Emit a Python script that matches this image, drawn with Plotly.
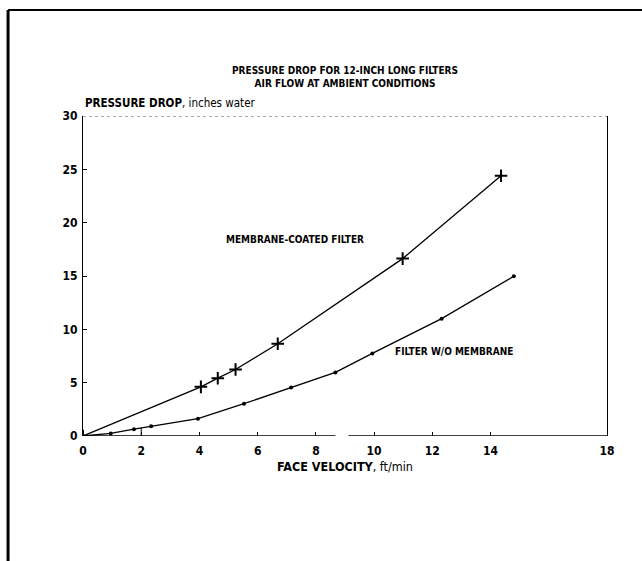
import plotly.graph_objects as go

# Data
coated_x = [0, 4.05, 4.63, 5.24, 6.69, 10.98, 14.36]
coated_y = [0, 4.61, 5.42, 6.23, 8.65, 16.63, 24.4]
plain_x = [0, 0.95, 1.75, 2.34, 3.95, 5.53, 7.15, 8.67, 9.94, 12.32, 14.8]
plain_y = [0, 0.24, 0.64, 0.91, 1.62, 3.03, 4.55, 5.96, 7.74, 11.0, 14.98]
x_ticks = [0, 2, 4, 6, 8, 10, 12, 14, 18]
y_ticks = [0, 5, 10, 15, 20, 25, 30]

FONT = "DejaVu Sans Condensed, Liberation Sans Narrow, Arial Narrow, sans-serif"

fig = go.Figure()
fig.add_trace(go.Scatter(
    x=coated_x, y=coated_y, mode="lines+markers",
    line=dict(color="black", width=1.3),
    marker=dict(symbol="cross-thin", size=9, line=dict(color="black", width=2), color="black"),
    showlegend=False))
fig.add_trace(go.Scatter(
    x=plain_x, y=plain_y, mode="lines+markers",
    line=dict(color="black", width=1.3),
    marker=dict(symbol="circle", size=4, color="black"),
    showlegend=False))

shapes = [
    # x axis with a break
    dict(type="line", xref="x", yref="y", x0=0, x1=8.67, y0=0, y1=0, line=dict(color="black", width=1.5)),
    dict(type="line", xref="x", yref="y", x0=9.12, x1=18, y0=0, y1=0, line=dict(color="black", width=1.5)),
    # top border
    dict(type="line", xref="x", yref="y", x0=0, x1=18, y0=30, y1=30, line=dict(color="#555", width=1, dash="dot")),
    # stray mark at x=2
    dict(type="line", xref="x", yref="y", x0=2, x1=2, y0=0, y1=0.75, line=dict(color="black", width=1)),
    # outer page frame (left and top)
    dict(type="line", xref="paper", yref="paper", x0=-0.143, x1=-0.143, y0=1.331, y1=-0.40, line=dict(color="black", width=3)),
    dict(type="line", xref="paper", yref="paper", x0=-0.143, x1=1.1, y0=1.331, y1=1.331, line=dict(color="black", width=2)),
]

annotations = [
    dict(text="<b>PRESSURE DROP FOR 12-INCH LONG FILTERS<br>AIR FLOW AT AMBIENT CONDITIONS</b>",
         xref="paper", yref="paper", x=0.5, y=1.122, xanchor="center", yanchor="middle",
         showarrow=False, font=dict(family=FONT, size=10, color="black"), align="center"),
    dict(text="<b>PRESSURE DROP</b>, inches water", xref="paper", yref="paper", x=0.0, y=1.04,
         xanchor="left", yanchor="middle", showarrow=False, font=dict(family=FONT, size=11.5, color="black")),
    dict(text="<b>FACE VELOCITY</b>, ft/min", xref="paper", yref="paper", x=0.5, y=-0.094,
         xanchor="center", yanchor="middle", showarrow=False, font=dict(family=FONT, size=12.5, color="black")),
    dict(text="<b>MEMBRANE-COATED FILTER</b>", xref="x", yref="y", x=7.27, y=18.4,
         showarrow=False, font=dict(family=FONT, size=10, color="black")),
    dict(text="<b>FILTER W/O MEMBRANE</b>", xref="x", yref="y", x=12.73, y=7.9,
         showarrow=False, font=dict(family=FONT, size=10, color="black")),
]

fig.update_layout(
    width=642, height=561,
    margin=dict(l=83, r=35, t=116, b=125),
    paper_bgcolor="white", plot_bgcolor="white",
    shapes=shapes, annotations=annotations,
    xaxis=dict(range=[0, 18], tickvals=x_ticks, ticktext=[f"<b>{v}</b>" for v in x_ticks],
               showgrid=False, zeroline=False, showline=False,
               ticks="inside", ticklen=4, tickcolor="black", ticklabelstandoff=6,
               tickfont=dict(family=FONT, size=12, color="black")),
    yaxis=dict(range=[0, 30], tickvals=y_ticks, ticktext=[f"<b>{v}</b>" for v in y_ticks],
               showgrid=False, zeroline=False, showline=True, mirror=True,
               linecolor="black", linewidth=1.2,
               ticks="inside", ticklen=4, tickcolor="black", ticklabelstandoff=2,
               tickfont=dict(family=FONT, size=12, color="black")),
)

fig.write_html("out.html")
